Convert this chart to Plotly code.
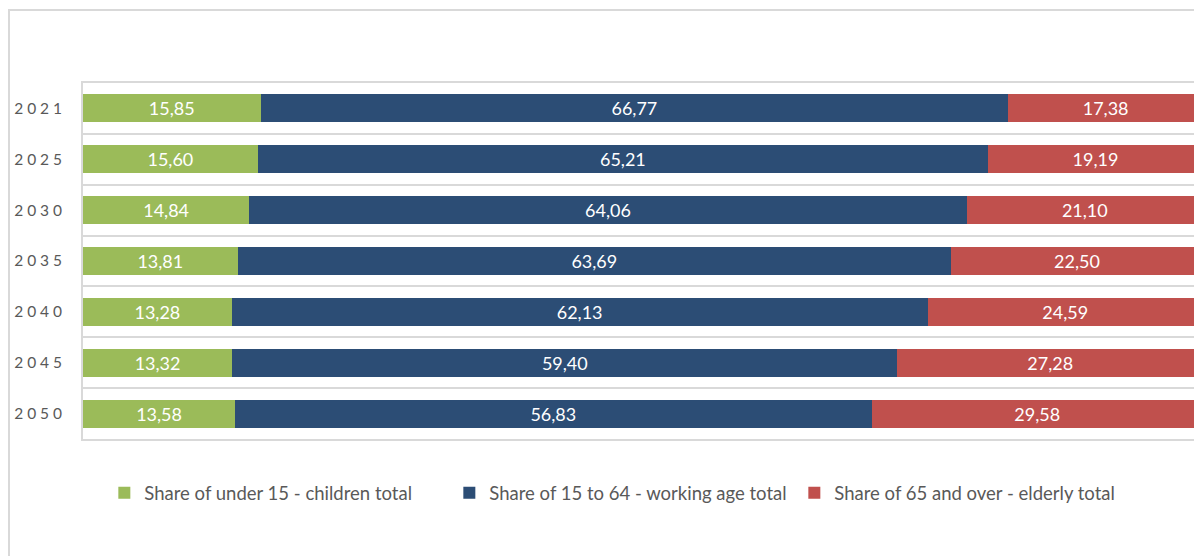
import plotly.graph_objects as go

years = ["2021", "2025", "2030", "2035", "2040", "2045", "2050"]
children = [15.85, 15.60, 14.84, 13.81, 13.28, 13.32, 13.58]
working_age = [66.77, 65.21, 64.06, 63.69, 62.13, 59.40, 56.83]
elderly = [17.38, 19.19, 21.10, 22.50, 24.59, 27.28, 29.58]

series_names = [
    "Share of under 15 - children total",
    "Share of 15 to 64 - working age total",
    "Share of 65 and over - elderly total",
]
series_values = [children, working_age, elderly]
series_colors = ["#9BBB59", "#2C4D75", "#C0504D"]

FONT = "Lato"
GRID = "#D9D9D9"
positions = list(range(len(years)))
# spaced-out year labels on the category axis
year_labels = ["\u2005".join(y) for y in years]

fig = go.Figure()
for name, vals, color in zip(series_names, series_values, series_colors):
    fig.add_trace(go.Bar(
        y=positions,
        x=vals,
        name=name,
        orientation="h",
        width=0.55,
        marker=dict(color=color, line=dict(width=0)),
        texttemplate="%{x:.2f}",
        textposition="inside",
        insidetextanchor="middle",
        textangle=0,
        textfont=dict(family=FONT, size=18, color="#FFFFFF"),
        hoverinfo="skip",
    ))

fig.update_layout(
    width=1194,
    height=556,
    barmode="stack",
    separators=",.",
    plot_bgcolor="#FFFFFF",
    paper_bgcolor="#FFFFFF",
    margin=dict(l=83, r=0, t=83, b=117),
    font=dict(family=FONT, color="#595959"),
    showlegend=True,
    legend=dict(
        orientation="h",
        x=0.485,
        xanchor="center",
        y=-0.152,
        yanchor="middle",
        font=dict(family=FONT, size=18.5, color="#595959"),
        traceorder="normal",
        itemclick=False,
        entrywidth=300,
        entrywidthmode="pixels",
    ),
    xaxis=dict(
        range=[0, 99.2],
        showgrid=False,
        zeroline=False,
        showticklabels=False,
        showline=True,
        linecolor=GRID,
        linewidth=2,
        mirror=True,
        fixedrange=True,
    ),
    yaxis=dict(
        range=[6.5, -0.5],
        tickmode="array",
        tickvals=positions,
        ticktext=year_labels,
        tickfont=dict(family=FONT, size=15.5, color="#595959"),
        ticks="",
        ticklabelstandoff=16,
        showgrid=False,
        zeroline=False,
        showline=True,
        linecolor=GRID,
        linewidth=2,
        minor=dict(
            tickmode="array",
            tickvals=[p + 0.5 for p in positions[:-1]],
            showgrid=True,
            gridcolor=GRID,
            gridwidth=2,
            ticks="",
        ),
        fixedrange=True,
    ),
    shapes=[
        dict(
            type="rect",
            xref="paper", yref="paper",
            x0=-0.0666, x1=1.05, y0=-0.6, y1=1.205,
            line=dict(color=GRID, width=2),
            fillcolor="rgba(0,0,0,0)",
            layer="below",
        )
    ],
)

fig.write_html("out.html", config={"displayModeBar": False})
